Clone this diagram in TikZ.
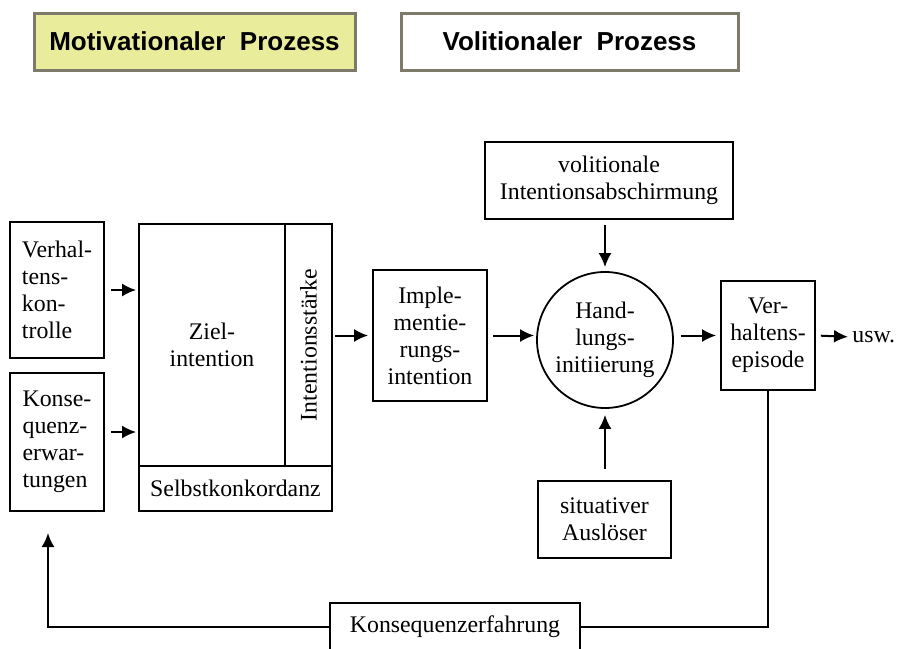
\documentclass[tikz,border=0pt]{standalone}
\usepackage{fontspec}
\setmainfont{Liberation Serif}
\newfontfamily\kopfschrift{Liberation Sans}
\usetikzlibrary{arrows.meta}
\definecolor{motgelb}{RGB}{233,236,155}
\definecolor{rahmengrau}{RGB}{125,122,105}
\tikzset{
 kasten/.style={draw,line width=0.9pt,inner sep=0pt,align=center,font=\fontsize{11.9}{13.5}\selectfont},
 kopf/.style={draw=rahmengrau,line width=1.5pt,inner sep=0pt,minimum height=28.5pt,font=\kopfschrift\bfseries\fontsize{13}{15}\selectfont},
 pfeil/.style={-{Latex[length=7pt,width=6.5pt]},line width=1pt},
}

\begin{document}
\begin{tikzpicture}[x=0.5pt,y=-0.5pt]
\useasboundingbox (0,0) rectangle (899,648);
\clip (0,0) rectangle (899,648);
\node[kopf,fill=motgelb,minimum width=160.5pt] (mot) at (194.5,41.5) {Motivationaler\ \ Prozess};
\node[kopf,fill=white,minimum width=168.5pt] (vol) at (569.5,41.5) {Volitionaler\ \ Prozess};

\node[kasten,align=left,minimum width=47pt,minimum height=68pt] (vk) at (57,290) {Verhal-\\tens-\\kon-\\trolle};
\node[kasten,align=left,minimum width=47pt,minimum height=69pt] (ke) at (57,442) {Konse-\\quenz-\\erwar-\\tungen};
\node[kasten,minimum width=73pt,minimum height=121pt] (ziel) at (212,345) {Ziel-\\intention};
\node[kasten,minimum width=23.5pt,minimum height=121pt] (staerke) at (308.5,345) {};
\node[rotate=90,inner sep=0pt,font=\fontsize{11.9}{13.5}\selectfont] (staerketext) at (staerke) {Intentionsstärke};
\node[kasten,minimum width=96.5pt,minimum height=22.5pt] (selbst) at (235.5,488.5) {Selbstkonkordanz};

\node[kasten,minimum width=57pt,minimum height=65.5pt] (impl) at (430,335.5) {Imple-\\mentie-\\rungs-\\intention};
\node[kasten,circle,minimum size=68pt] (hand) at (605,340) {Hand-\\lungs-\\initiierung};
\node[kasten,minimum width=124pt,minimum height=38.5pt] (abschirm) at (609,180.5) {volitionale\\Intentionsabschirmung};
\node[kasten,minimum width=66.5pt,minimum height=38.5pt] (ausl) at (604.5,519.5) {situativer\\Auslöser};
\node[kasten,minimum width=47pt,minimum height=54.5pt] (epi) at (768,335.5) {Ver-\\haltens-\\episode};
\node[inner sep=0pt,anchor=west,font=\fontsize{11.9}{13.5}\selectfont] (usw) at (852,337) {usw.};
\node[kasten,minimum width=125pt,minimum height=24pt] (erf) at (455,627) {Konsequenzerfahrung};
\coordinate (rueck) at (48,533);

\draw[pfeil,shorten <=3pt,shorten >=1pt] (vk.east) -- (vk.east -| ziel.west);
\draw[pfeil,shorten <=3pt,shorten >=1pt] ([yshift=5pt]ke.east) -- ([yshift=5pt]ke.east -| ziel.west);
\draw[pfeil,shorten <=1pt,shorten >=2pt] (staerke.east |- impl) -- (impl.west);
\draw[pfeil,shorten <=2.5pt,shorten >=1pt] (impl.east) -- (impl.east -| hand.west);
\draw[pfeil,shorten <=3.5pt,shorten >=2pt] (hand.east |- epi) -- (epi.west);
\draw[pfeil,shorten <=2.5pt,shorten >=2pt] (epi.east) -- (usw.west);
\draw[pfeil,shorten <=2.5pt,shorten >=2pt] (abschirm.south -| hand) -- (hand.north);
\draw[pfeil,shorten <=5.5pt,shorten >=3pt] (ausl.north -| hand) -- (hand.south);
\draw[line width=1pt] (epi.south) |- (erf.east);
\draw[pfeil] (erf.west) -| (rueck);
\end{tikzpicture}
\end{document}
